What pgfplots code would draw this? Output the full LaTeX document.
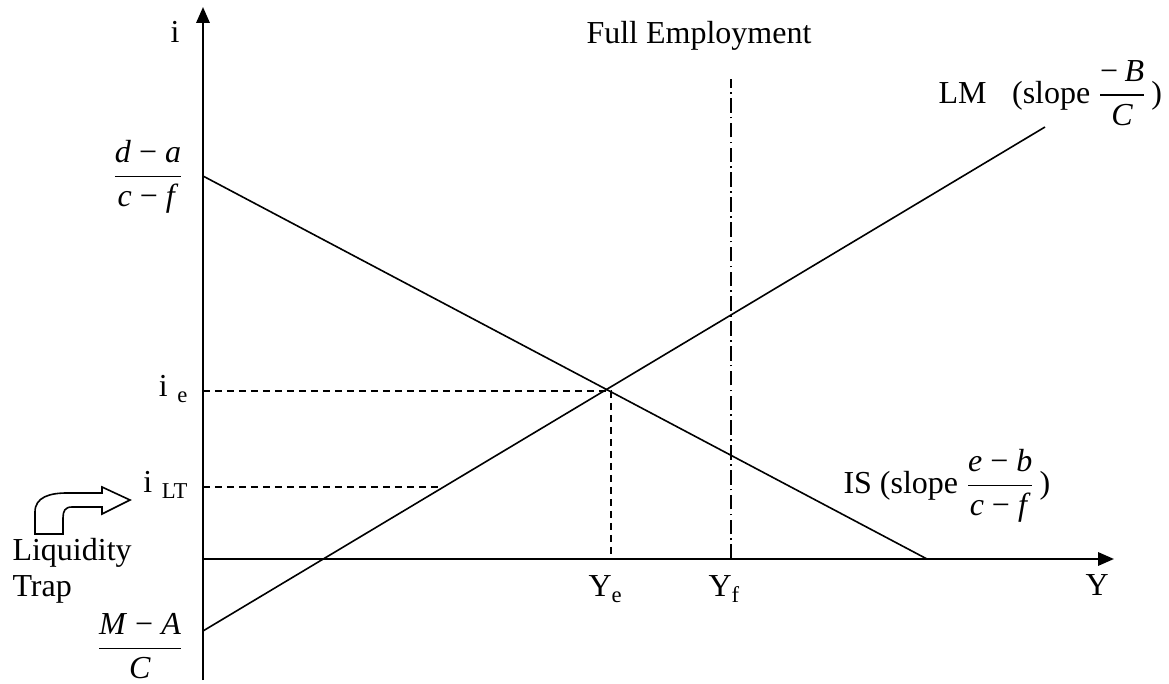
\documentclass[border=0pt]{standalone}
\usepackage{amsmath}
\usepackage{fontspec}
\setmainfont{Liberation Serif}
\usepackage{pgfplots}
\pgfplotsset{compat=1.18}
\usetikzlibrary{arrows.meta}

% fraction with text-font letters, as in the reference
\newcommand{\fr}[2]{\genfrac{}{}{0.55pt}{0}{\mbox{#1}}{\mbox{#2}}}
\newcommand{\mi}{\kern0.25em−\kern0.25em}

\begin{document}
\begin{tikzpicture}[font=\fontsize{12}{14}\selectfont, inner sep=0pt]
\begin{axis}[
    x=0.375pt, y=0.375pt,
    xmin=0, xmax=911, ymin=-121, ymax=552,
    enlargelimits=false,
    axis lines*=middle,
    axis line style={line width=0.85pt, -{Triangle[length=6pt,width=5pt]}},
    xtick=\empty, ytick=\empty,
    clip=false,
]
% IS and LM curves
\addplot[line width=0.6pt] coordinates {(0,383) (724,0)};
\addplot[line width=0.6pt] coordinates {(0,-72) (842,432)};
% equilibrium and liquidity trap guides
\addplot[line width=0.6pt, dash pattern=on 2.6pt off 1.9pt] coordinates {(0,168) (408,168) (408,0)};
\addplot[line width=0.6pt, dash pattern=on 2.6pt off 1.9pt] coordinates {(0,72) (240,72)};
% full employment
\addplot[line width=0.6pt, dash pattern=on 5.5pt off 1.6pt on 0.6pt off 1.6pt] coordinates {(528,0) (528,480)};

\node[anchor=base] at (-28,516) {i};
\node at (496,523) {Full Employment};
\node at (-55,382) {$\fr{\textit{d}\mi\textit{a}}{\textit{c}\mi\textit{f}}$};
\node at (-63,-87) {$\fr{\textit{M}\mi\textit{A}}{\textit{C}}$};
\node[anchor=base east] at (-15,162) {i\kern0.3em\raisebox{-0.35ex}{\fontsize{8.5}{10}\selectfont e}};
\node[anchor=base east] at (-15,66) {i\kern0.3em\raisebox{-0.35ex}{\fontsize{8.5}{10}\selectfont LT}};
\node[anchor=base west] at (385,-38) {Y\raisebox{-0.35ex}{\fontsize{8.5}{10}\selectfont e}};
\node[anchor=base west] at (505,-38) {Y\raisebox{-0.35ex}{\fontsize{8.5}{10}\selectfont f}};
\node[anchor=base west] at (882,-37) {Y};
\node[anchor=base west] at (-191,-1) {Liquidity};
\node[anchor=base west] at (-191,-38) {Trap};
\node[anchor=west] at (735,466) {LM\hspace{0.8em}(slope\kern2.5pt$\fr{−\kern0.2em\textit{B}}{\textit{C}}$\kern1.5pt)};
\node[anchor=west] at (640,73) {IS (slope\kern2.5pt$\fr{\textit{e}\mi\textit{b}}{\textit{c}\mi\textit{f}}$\kern1.5pt)};

% bent block arrow pointing at i_LT
\draw[line width=0.6pt] (-168,25) -- (-168,47)
    .. controls (-168,62) and (-153,66) .. (-136,66)
    -- (-101,66) -- (-101,72) -- (-73,59) -- (-101,45) -- (-101,52)
    -- (-131,52) .. controls (-138,52) and (-140,48) .. (-140,41)
    -- (-140,25) -- cycle;

\coordinate (bl) at (-203,-124);
\coordinate (tr) at (966,559);
\end{axis}
\pgfresetboundingbox
\useasboundingbox (bl) rectangle (tr);
\end{tikzpicture}
\end{document}
